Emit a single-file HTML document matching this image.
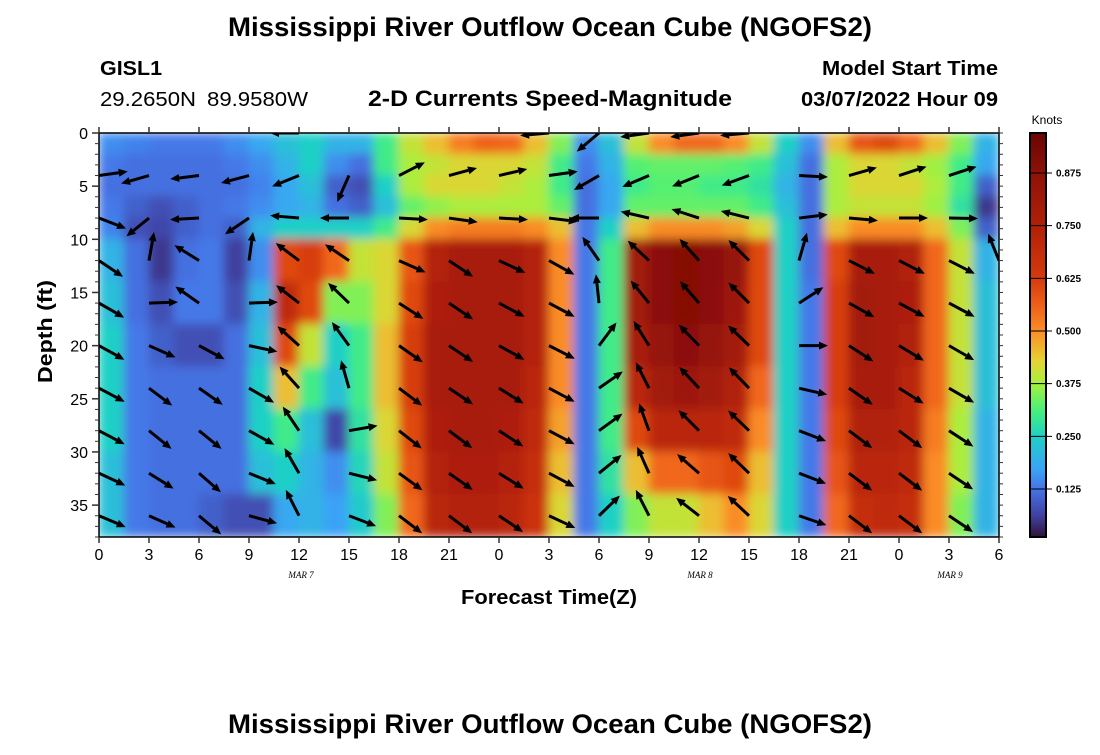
<!DOCTYPE html>
<html><head><meta charset="utf-8"><style>
body{margin:0;background:#fff;}
svg text{font-family:"Liberation Sans",sans-serif;}
</style></head><body>
<svg id="chart" width="1100" height="750" xmlns="http://www.w3.org/2000/svg">
<defs>
<clipPath id="plotclip"><rect x="99" y="133" width="900" height="404"/></clipPath>
<filter id="smooth" x="0" y="0" width="1" height="1"><feGaussianBlur stdDeviation="5" edgeMode="duplicate"/></filter>
<linearGradient id="cbgrad" x1="0" y1="1" x2="0" y2="0"></linearGradient>
</defs>
<text x="228" y="36" textLength="644" lengthAdjust="spacingAndGlyphs" font-size="27" font-weight="bold">Mississippi River Outflow Ocean Cube (NGOFS2)</text>
<text x="100" y="75" textLength="62" lengthAdjust="spacingAndGlyphs" font-size="20" font-weight="bold">GISL1</text>
<text x="100" y="106" textLength="96" lengthAdjust="spacingAndGlyphs" font-size="20">29.2650N</text>
<text x="207" y="106" textLength="101" lengthAdjust="spacingAndGlyphs" font-size="20">89.9580W</text>
<text x="368" y="106" textLength="364" lengthAdjust="spacingAndGlyphs" font-size="22" font-weight="bold">2-D Currents Speed-Magnitude</text>
<text x="822" y="75" textLength="176" lengthAdjust="spacingAndGlyphs" font-size="20" font-weight="bold">Model Start Time</text>
<text x="801" y="106" textLength="197" lengthAdjust="spacingAndGlyphs" font-size="20" font-weight="bold">03/07/2022 Hour 09</text>
<g id="heat" clip-path="url(#plotclip)"><g id="cells" filter="url(#smooth)"></g></g>
<g id="arrows" clip-path="url(#plotclip)"></g>
<rect x="99" y="133" width="900" height="404" fill="none" stroke="#000" stroke-width="1.5"/>
<g id="axes"></g>
<text transform="translate(52,383) rotate(-90)" textLength="103" lengthAdjust="spacingAndGlyphs" font-size="20" font-weight="bold">Depth (ft)</text>
<text x="461" y="604" textLength="176" lengthAdjust="spacingAndGlyphs" font-size="20" font-weight="bold">Forecast Time(Z)</text>
<text x="301" y="578" text-anchor="middle" font-size="9" font-style="italic" style="font-family:'Liberation Serif',serif">MAR 7</text>
<text x="700" y="578" text-anchor="middle" font-size="9" font-style="italic" style="font-family:'Liberation Serif',serif">MAR 8</text>
<text x="950" y="578" text-anchor="middle" font-size="9" font-style="italic" style="font-family:'Liberation Serif',serif">MAR 9</text>
<text x="1047" y="124" text-anchor="middle" font-size="12">Knots</text>
<rect x="1030" y="133" width="16" height="404" fill="url(#cbgrad)" stroke="#000" stroke-width="2"/>
<g id="cbticks"></g>
<text x="228" y="733" textLength="644" lengthAdjust="spacingAndGlyphs" font-size="27" font-weight="bold">Mississippi River Outflow Ocean Cube (NGOFS2)</text>
</svg>
<script>
// ---- data ----
const timeCols = 36;            // 1.5 h columns over 54 h
const depthEdges = [0,2,4,6,8,10,14,18,22,26,30,34,38];
const r0=[.15,.14,.13,.13,.13,.15,.18,.22,.25,.2,.2,.3,.4,.45,.52,.56,.55,.45,.35,.15,.22,.4,.5,.55,.55,.5,.4,.25,.15,.45,.58,.6,.55,.45,.35,.2];
const r1=[.13,.12,.12,.12,.12,.13,.15,.2,.25,.15,.12,.3,.38,.4,.42,.42,.42,.4,.3,.13,.2,.32,.33,.33,.33,.32,.3,.22,.12,.38,.42,.42,.4,.37,.3,.18];
const r2=[.12,.12,.12,.12,.12,.12,.14,.18,.22,.1,.08,.25,.38,.42,.42,.42,.4,.38,.3,.12,.18,.3,.32,.32,.3,.3,.28,.2,.12,.38,.42,.42,.42,.38,.3,.1];
const r3=[.13,.1,.08,.1,.12,.13,.15,.18,.2,.12,.1,.22,.33,.36,.38,.38,.38,.38,.33,.12,.18,.33,.33,.33,.33,.33,.3,.22,.12,.38,.4,.4,.4,.37,.28,.05];
const r4=[.14,.08,.07,.1,.12,.1,.2,.25,.25,.25,.25,.3,.42,.5,.52,.52,.52,.5,.45,.13,.25,.45,.5,.5,.5,.48,.42,.25,.12,.45,.5,.5,.5,.45,.35,.1];
const r5=[.2,.12,.05,.12,.13,.06,.15,.6,.62,.55,.4,.42,.58,.74,.78,.78,.78,.74,.5,.13,.3,.8,.88,.9,.88,.85,.6,.25,.12,.6,.78,.78,.75,.55,.4,.2];
const r6=[.22,.12,.08,.13,.13,.08,.2,.7,.6,.35,.35,.42,.6,.76,.78,.78,.78,.74,.5,.13,.3,.8,.88,.9,.88,.82,.6,.25,.13,.62,.8,.78,.76,.55,.4,.22];
const r7=[.25,.13,.1,.08,.08,.12,.22,.6,.4,.25,.3,.45,.62,.78,.78,.78,.78,.74,.5,.13,.3,.78,.85,.88,.85,.8,.6,.25,.13,.62,.8,.78,.75,.55,.4,.22];
const r8=[.25,.13,.12,.12,.12,.12,.25,.45,.3,.22,.3,.45,.62,.78,.78,.78,.78,.72,.5,.13,.3,.72,.8,.82,.8,.75,.55,.25,.13,.62,.78,.78,.72,.55,.4,.22];
const r9=[.25,.13,.12,.12,.12,.12,.25,.3,.22,.07,.28,.42,.6,.76,.78,.78,.76,.7,.48,.13,.3,.6,.72,.72,.72,.7,.5,.25,.13,.6,.75,.75,.72,.52,.38,.2];
const r10=[.22,.13,.12,.12,.12,.12,.22,.25,.2,.15,.26,.4,.58,.74,.76,.76,.74,.68,.45,.13,.28,.45,.55,.55,.58,.6,.45,.25,.13,.58,.72,.72,.7,.5,.38,.2];
const r11=[.22,.13,.12,.12,.1,.08,.08,.18,.2,.17,.24,.35,.55,.72,.74,.74,.72,.66,.42,.13,.25,.35,.4,.4,.45,.5,.42,.25,.13,.55,.68,.7,.68,.5,.35,.2];
const speedRows=[r0,r1,r2,r3,r4,r5,r6,r7,r8,r9,r10,r11];
// arrow directions (deg, screen coords) at depths 0,4,...,36 ft and every 3 h
const arrowDepths=[0,4,8,12,16,20,24,28,32,36];
const a0=[-90,-90,-90,-90,180,-90,-90,-90,-90,175,140,172,172,175,-90,-90,-90,-90,-90];
const a1=[-8,164,173,165,158,114,-27,-15,-13,-8,150,157,158,160,3,-16,-18,-18,-10];
const a2=[21,141,177,146,185,180,3,8,3,7,180,193,198,194,-7,5,0,1,0];
const a3=[34,-80,-148,-82,-143,-146,24,34,25,29,-125,-137,-132,-135,-74,27,27,27,-112];
const a4=[30,-2,-145,-2,-142,-136,33,34,28,28,-96,-129,-131,-135,-33,29,28,28,28];
const a5=[29,24,28,12,-138,-126,35,34,29,27,-53,-122,-134,-136,0,33,31,30,30];
const a6=[28,37,35,30,-132,-106,37,34,32,28,-35,-117,-133,-134,13,35,32,30,30];
const a7=[28,39,39,29,-124,-10,38,37,33,28,-36,-110,-135,-136,21,37,37,33,33];
const a8=[25,32,41,22,-120,14,36,35,32,28,-39,-114,-139,-136,21,37,37,34,34];
const a9=[23,24,40,15,-117,21,37,37,34,25,-44,-117,-142,-137,19,37,37,34,34];
const arrowRows=[a0,a1,a2,a3,a4,a5,a6,a7,a8,a9];
const xTickLabels=["0","3","6","9","12","15","18","21","0","3","6","9","12","15","18","21","0","3","6"];
const yTickLabels=[0,5,10,15,20,25,30,35];
const cbTickLabels=[0.125,0.25,0.375,0.5,0.625,0.75,0.875];

// ---- scales ----
const X0=99,X1=999,Y0=133,Y1=537,HMAX=54,DMAX=38;
const xh=h=>X0+(X1-X0)*h/HMAX;
const yd=d=>Y0+(Y1-Y0)*d/DMAX;
const VMIN=0.011,VMAX=0.97;
const cbY=v=>Y1-(Y1-Y0)*(v-VMIN)/(VMAX-VMIN);
const stops=[[0,"#30123b"],[0.06,"#403f9e"],[0.125,"#4574e6"],[0.17,"#3aa2f7"],[0.25,"#1fd0c6"],[0.31,"#45f07c"],[0.375,"#a6f03e"],[0.43,"#e6d233"],[0.5,"#fa8c28"],[0.56,"#ef6019"],[0.625,"#d53a0c"],[0.75,"#b02008"],[0.875,"#8e1207"],[0.97,"#6a0404"]];
function hex(c){return [1,3,5].map(i=>parseInt(c.substr(i,2),16));}
function color(v){
  if(v<=stops[0][0])return stops[0][1];
  for(let i=1;i<stops.length;i++){if(v<=stops[i][0]){const a=stops[i-1],b=stops[i];const t=(v-a[0])/(b[0]-a[0]);const ca=hex(a[1]),cb=hex(b[1]);return "rgb("+ca.map((x,k)=>Math.round(x+(cb[k]-x)*t)).join(",")+")";}}
  return stops[stops.length-1][1];
}
const NS="http://www.w3.org/2000/svg";
function mk(tag,attrs,parent){const e=document.createElementNS(NS,tag);for(const k in attrs)e.setAttribute(k,attrs[k]);parent.appendChild(e);return e;}

// colorbar gradient
const grad=document.getElementById('cbgrad');
stops.forEach(s=>{mk('stop',{offset:((s[0]-VMIN)/(VMAX-VMIN)*100).toFixed(2)+'%','stop-color':s[1]},grad);});

// heatmap cells
const cells=document.getElementById('cells');
const colW=HMAX/timeCols;
speedRows.forEach((row,ri)=>{
  row.forEach((v,ci)=>{
    const x0=xh(ci*colW),x1=xh((ci+1)*colW),y0=yd(depthEdges[ri]),y1=yd(depthEdges[ri+1]);
    const r=mk('rect',{x:x0-0.5,y:y0-0.5,width:x1-x0+1,height:y1-y0+1,fill:color(v)},cells);
    
    
  });
});

// arrows
const ag=document.getElementById('arrows');
const L=29;
arrowRows.forEach((row,ri)=>{
  row.forEach((ang,ci)=>{
    const x=xh(ci*3),y=yd(arrowDepths[ri]);
    const a=ang*Math.PI/180,c=Math.cos(a),s=Math.sin(a);
    const hx=x+L*c,hy=y+L*s;
    const g=mk('g',{},ag);
    
    
    const bx=hx-9*c,by=hy-9*s;
    mk('line',{x1:x,y1:y,x2:bx,y2:by,stroke:'#000','stroke-width':3},g);
    mk('polygon',{points:`${hx},${hy} ${bx-4*s},${by+4*c} ${bx+4*s},${by-4*c}`,fill:'#000'},g);
  });
});

// axes
const ax=document.getElementById('axes');
xTickLabels.forEach((lab,i)=>{
  const x=xh(i*3);
  mk('line',{x1:x,y1:Y1,x2:x,y2:Y1+6,stroke:'#333','stroke-width':1.5},ax);
  mk('line',{x1:x,y1:Y0,x2:x,y2:Y0-6,stroke:'#333','stroke-width':1.5},ax);
  const t=mk('text',{x:x,y:560,'text-anchor':'middle','font-size':16},ax);
  t.textContent=lab;
  
  
});
for(let d=0;d<=DMAX;d++){
  const y=yd(d);
  mk('line',{x1:X0,y1:y,x2:X0-4,y2:y,stroke:'#333','stroke-width':1},ax);
  mk('line',{x1:X1,y1:y,x2:X1+4,y2:y,stroke:'#333','stroke-width':1},ax);
}
yTickLabels.forEach(d=>{
  const y=yd(d);
  mk('line',{x1:X0,y1:y,x2:X0-7,y2:y,stroke:'#333','stroke-width':1.5},ax);
  const t=mk('text',{x:88,y:y+6,'text-anchor':'end','font-size':16},ax);
  t.textContent=d;
  
  
});
const cbt=document.getElementById('cbticks');
cbTickLabels.forEach(v=>{
  const y=cbY(v);
  mk('line',{x1:1030,y1:y,x2:1052,y2:y,stroke:'#000','stroke-width':1},cbt);
  const t=mk('text',{x:1056,y:y+3.5,'font-size':10,'font-weight':'bold'},cbt);
  t.textContent=v.toFixed(3);
  
  
});
</script>
</body></html>
